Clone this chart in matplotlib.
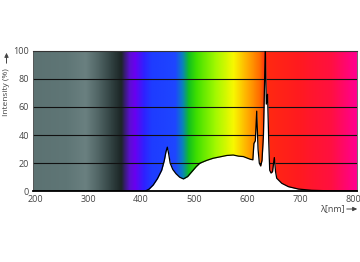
import numpy as np
import matplotlib
matplotlib.use("Agg")
import matplotlib.pyplot as plt
from matplotlib.colors import LinearSegmentedColormap, to_rgb

# ---- data ----
wavelength = [200, 407, 415, 423, 431, 439, 444, 447, 449.6, 452, 455, 460, 466, 473, 480,
              488, 496, 504, 511, 524, 536, 549, 562, 574, 584, 593, 606, 611, 613, 615.7,
              618.3, 620.8, 623.2, 625.8, 628.3, 631, 634.5, 636.4, 638.7, 641, 642.8,
              645.3, 648.1, 651.5, 653.8, 656, 665.5, 678, 697, 722, 760, 808]
intensity = [0, 0, 1.5, 4.5, 9, 15, 22, 28, 31.4, 27, 20, 15.5, 12.5, 10, 8.8,
             10.5, 14, 17.5, 20, 22, 23.5, 24.5, 25.5, 25.8, 25, 24.7, 22.8, 22.4, 34, 36,
             57, 30, 20, 18, 22, 40, 103, 62, 69, 35, 15,
             13, 14, 24, 14, 9.3, 5.7, 3.3, 1.6, 0.7, 0.3, 0.1]

x_ticks = [200, 300, 400, 500, 600, 700, 800]
y_ticks = [0, 20, 40, 60, 80, 100]

# background spectrum colour stops (nm, colour)
bg_nm = [196, 260, 295, 320, 345, 362, 378, 388, 405, 420, 465, 478, 490, 505,
         540, 575, 600, 625, 635, 700, 760, 808]
bg_col = ["#5c7272", "#5f7676", "#6a8080", "#4f6363", "#2f3f3f", "#1c2626",
          "#5a10d0", "#6a00f0", "#3020ff", "#1e3cff", "#1e46ff", "#0a80c0",
          "#10c020", "#40e000", "#a0f800", "#f8f800", "#ffb000", "#ff6a00",
          "#ff2a10", "#ff1a20", "#ff1040", "#ff0090"]

XMIN, XMAX = 196.2, 807.5

fig = plt.figure(figsize=(3.6, 2.62), dpi=100)
ax = fig.add_axes([33/360, 1-191.3/262, 324/360, 140.6/262])

lo, hi = bg_nm[0], bg_nm[-1]
cmap = LinearSegmentedColormap.from_list(
    "spec", [((n - lo) / (hi - lo), to_rgb(c)) for n, c in zip(bg_nm, bg_col)])
grad = np.linspace(0, 1, 1000)[None, :]
ax.imshow(grad, extent=[lo, hi, 0, 100], aspect="auto", cmap=cmap,
          zorder=0, interpolation="bilinear")

for y in y_ticks[1:-1]:
    ax.axhline(y, color="#111111", lw=0.8, zorder=1)

ax.fill_between(wavelength, intensity, 0, color="white", zorder=2, lw=0)
ax.plot(wavelength, intensity, color="black", lw=0.9, zorder=3)

ax.set_xlim(XMIN, XMAX)
ax.set_ylim(0, 100)
ax.set_xticks(x_ticks)
ax.set_yticks(y_ticks)
ax.tick_params(length=0, labelsize=6.5, labelcolor="#444444", pad=3)
for lab in ax.get_xticklabels() + ax.get_yticklabels():
    lab.set_family(["Open Sans", "DejaVu Sans"])

ax.spines["bottom"].set_color("black")
ax.spines["bottom"].set_linewidth(1.3)
ax.spines["top"].set_color("#333333")
ax.spines["top"].set_linewidth(0.8)
for s in ("left", "right"):
    ax.spines[s].set_color("#555555")
    ax.spines[s].set_linewidth(0.6)

# axis labels with arrows
fig.text(6.5/360, 1-116/262, "Intensity (%)", rotation=90, ha="center", va="bottom",
         fontsize=6, color="#444444", family=["Open Sans", "DejaVu Sans"])
fig.add_artist(matplotlib.patches.FancyArrowPatch(
    (6.5/360, 1-66/262), (6.5/360, 1-50/262), transform=fig.transFigure,
    arrowstyle="-|>,head_length=2.5,head_width=1.2", color="#444444", lw=0.7,
    mutation_scale=1))
fig.text(332/360, 1-209/262, "λ[nm]", ha="center", va="center",
         fontsize=6.5, color="#444444", family=["Open Sans", "DejaVu Sans"])
fig.add_artist(matplotlib.patches.FancyArrowPatch(
    (344/360, 1-209/262), (360/360, 1-209/262), transform=fig.transFigure,
    arrowstyle="-|>,head_length=2.5,head_width=1.2", color="#444444", lw=0.7,
    mutation_scale=1))

fig.savefig("out.png", dpi=100)
